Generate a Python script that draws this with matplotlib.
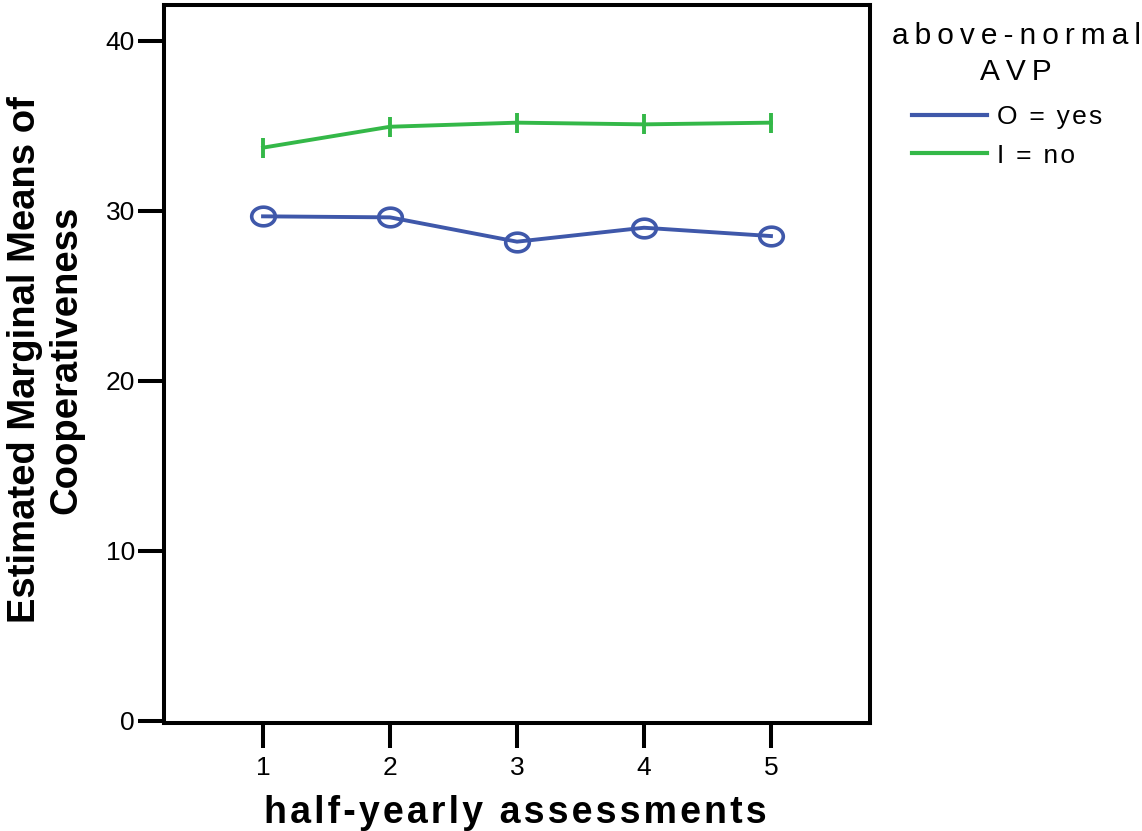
import matplotlib
matplotlib.use("Agg")
import matplotlib.pyplot as plt
import numpy as np
from matplotlib.path import Path
from matplotlib.lines import Line2D

plt.rcParams['font.family'] = ['Liberation Sans', 'DejaVu Sans']

assessments = [1, 2, 3, 4, 5]
avp_yes = [29.67, 29.61, 28.18, 29.00, 28.51]
avp_no = [33.71, 34.94, 35.18, 35.08, 35.18]
series_labels = ["O = yes", "I = no"]
legend_title = ["above-normal", "AVP"]
x_label = "half-yearly assessments"
y_label = "Estimated Marginal Means of\nCooperativeness"
y_ticks = [0, 10, 20, 30, 40]

blue = "#3F58AA"
green = "#34B848"


def tracked(s, sp):
    return sp.join(list(s))


# elliptical open marker (wider than tall)
t = np.linspace(0, 2 * np.pi, 60)
ell = Path(np.column_stack([np.cos(t), 0.79 * np.sin(t)]), closed=True)

fig = plt.figure(figsize=(11.42, 8.31), dpi=100)
ax = fig.add_axes([164 / 1142, 1 - 723 / 831, (870 - 164) / 1142, (723 - 5) / 831])

ax.plot(assessments, avp_yes, color=blue, lw=2.8, marker=ell, markersize=17,
        markerfacecolor='none', markeredgecolor=blue, markeredgewidth=2.6, zorder=3)
ax.plot(assessments, avp_no, color=green, lw=2.8, marker='|', markersize=14,
        markeredgewidth=2.8, zorder=3)

ax.set_xlim(0.22, 5.78)
ax.set_ylim(-0.13, 42.1)
ax.set_xticks(assessments)
ax.set_yticks(y_ticks)
for s in ax.spines.values():
    s.set_linewidth(2.9)
ax.tick_params(axis='y', length=19, width=2.9, pad=2, labelsize=19)
ax.tick_params(axis='x', length=18, width=2.9, pad=6, labelsize=19)

fig.text(46 / 1142, 1 - 360 / 831, y_label, rotation=90, ha='center', va='center',
         fontsize=27.5, fontweight='bold', multialignment='center', linespacing=1.2)
fig.text(515 / 1142, 1 - 813 / 831, tracked(x_label, '\u200a'), ha='center', va='center',
         fontsize=27, fontweight='bold')

# legend title
fig.text(1016 / 1142, 1 - 54 / 831,
         "\n".join(tracked(s, '\u2009') for s in legend_title),
         ha='center', va='center', fontsize=21.5, multialignment='center', linespacing=1.4)

handles = [Line2D([], [], color=blue, lw=3), Line2D([], [], color=green, lw=3)]
labels = [tracked(l, '\u200a') for l in series_labels]
leg = fig.legend(handles, labels, loc='upper left',
                 bbox_to_anchor=(912 / 1142, 1 - 105 / 831), frameon=False,
                 fontsize=19, handlelength=2.85, handletextpad=0.38,
                 labelspacing=0.55, borderpad=0, borderaxespad=0)

fig.savefig("out.png", dpi=100)
